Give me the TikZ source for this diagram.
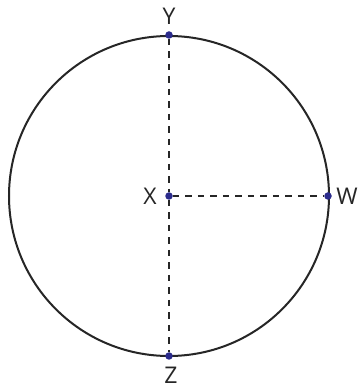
\documentclass[tikz,border=0pt]{standalone}
\usepackage{fontspec}
\setmainfont{Open Sans}
\definecolor{dotblue}{HTML}{2B2B8C}
\definecolor{linegray}{HTML}{262626}
\begin{document}
\begin{tikzpicture}[x=1pt,y=1pt,
  pt/.style={circle,fill=dotblue,inner sep=0pt,minimum size=7.5pt},
  lbl/.style={font=\fontsize{23}{27}\selectfont,text=linegray,inner sep=1pt},
  dline/.style={draw=linegray,line width=2pt,dash pattern=on 6.5pt off 6pt}]
\useasboundingbox (0,0) rectangle (364,389);
\fill[white] (0,0) rectangle (364,389);
\coordinate (c) at (169,193);
\draw[linegray,line width=2pt] (c) circle (160);
\node[pt] (X) at (169,193) {};
\node[pt] (Y) at (169,354) {};
\node[pt] (Z) at (169,33) {};
\node[pt] (W) at (328,193) {};
\draw[dline] (Y) -- (X);
\draw[dline] (X) -- (Z);
\draw[dline] (X) -- (W);
\node[lbl] (lY) at (169,373) {Y};
\node[lbl] (lX) at (150,193) {X};
\node[lbl] (lW) at (347,193) {W};
\node[lbl] (lZ) at (171,14) {Z};
\end{tikzpicture}
\end{document}
